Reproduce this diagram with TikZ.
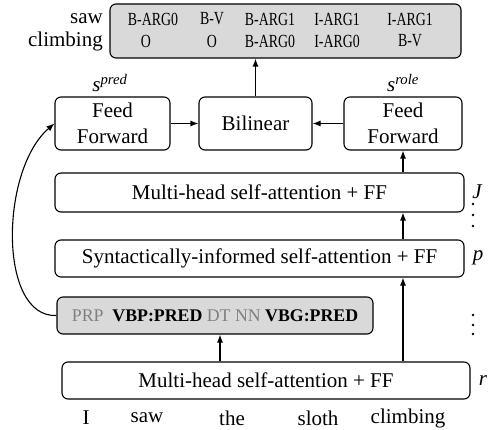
\documentclass[tikz,border=0pt]{standalone}
\usepackage{fontspec}
\setmainfont{Liberation Serif}
\newfontfamily\condfont{Liberation Serif}[FakeStretch=0.75]
\usetikzlibrary{arrows.meta,calc}
\definecolor{boxgray}{HTML}{D9D9D9}
\definecolor{tagtext}{HTML}{808080}
\begin{document}
\begin{tikzpicture}[x=1pt,y=-1pt,
  every node/.style={font=\fontsize{21}{26.5}\selectfont, inner sep=0pt},
  blk/.style={draw, rounded corners=6pt, line width=1.1pt, align=center},
  lbl/.style={font=\condfont\fontsize{18.5}{22}\selectfont},
  arr/.style={-{Latex[length=8pt,width=6pt]}, line width=1.1pt},
  side/.style={font=\itshape\fontsize{21}{24}\selectfont}]
\useasboundingbox (0,0) rectangle (489,430);
% output box
\node[blk, fill=boxgray, minimum width=351pt, minimum height=54pt] (out) at (285.5,31) {};
\node[anchor=east] (lsaw) at (103,19) {saw};
\node[anchor=east] (lclimb) at (103,41) {climbing};
\node[lbl] (a1) at (153,19) {B-ARG0};
\node[lbl] (a2) at (212,19) {B-V};
\node[lbl] (a3) at (270,19) {B-ARG1};
\node[lbl] (a4) at (337,19) {I-ARG1};
\node[lbl] (a5) at (410,19) {I-ARG1};
\node[lbl] (b1) at (146,41) {O};
\node[lbl] (b2) at (212,41) {O};
\node[lbl] (b3) at (270,41) {B-ARG0};
\node[lbl] (b4) at (337,41) {I-ARG0};
\node[lbl] (b5) at (410,41) {B-V};
% middle row
\node[blk, minimum width=115pt, minimum height=53pt] (ffl) at (112.5,123.5) {Feed\\Forward};
\node[blk, minimum width=113pt, minimum height=53pt] (bil) at (255.5,123.5) {Bilinear};
\node[blk, minimum width=118pt, minimum height=53pt] (ffr) at (403,123.5) {Feed\\Forward};
\node (spred) at (110,83) {\textit{s\textsuperscript{pred}}};
\node (srole) at (403,83) {\textit{s\textsuperscript{role}}};
% layers
\node[blk, minimum width=409pt, minimum height=39pt] (lJ) at (259.5,192.5) {Multi-head self-attention + FF};
\node[blk, minimum width=409pt, minimum height=37pt] (lp) at (259.5,258.5) {Syntactically-informed self-attention + FF};
\node[blk, fill=boxgray, minimum width=316pt, minimum height=37pt, font=\fontsize{17.8}{20}\selectfont] (pos) at (215,315.5)
  {\textcolor{tagtext}{PRP}\ \ \textbf{VBP:PRED}\ \textcolor{tagtext}{DT NN}\ \textbf{VBG:PRED}};
\node[blk, minimum width=408pt, minimum height=37pt] (lr) at (266,380.5) {Multi-head self-attention + FF};
\node[side] (tJ) at (477,192) {J};
\node[side] (tp) at (478,258) {p};
\node[side] (tr) at (483,381) {r};
\foreach \yy in {204,215,226,315,325,334} \fill (473,\yy) circle (1.3pt);
% words
\node (w1) at (86,418) {I};
\node (w2) at (147,418) {saw};
\node (w3) at (232,418) {the};
\node (w4) at (318,418) {sloth};
\node (w5) at (408,418) {climbing};
% connectors
\coordinate (cx) at (220,0);
\draw[arr] (bil.north) -- (out.south -| bil.north);
\draw[arr] (ffl.east) -- (bil.west);
\draw[arr] (ffr.west) -- (bil.east);
\draw[arr] (lJ.north -| ffr.south) -- (ffr.south);
\draw[arr] (lp.north -| ffr.south) -- (lJ.south -| ffr.south);
\draw[arr] (lr.north -| ffr.south) -- (lp.south -| ffr.south);
\draw[arr] (lr.north -| cx) -- (pos.south -| cx);
\draw[arr] (pos.west) .. controls (-2,318) and (0,170) .. (ffl.west);
\end{tikzpicture}
\end{document}
